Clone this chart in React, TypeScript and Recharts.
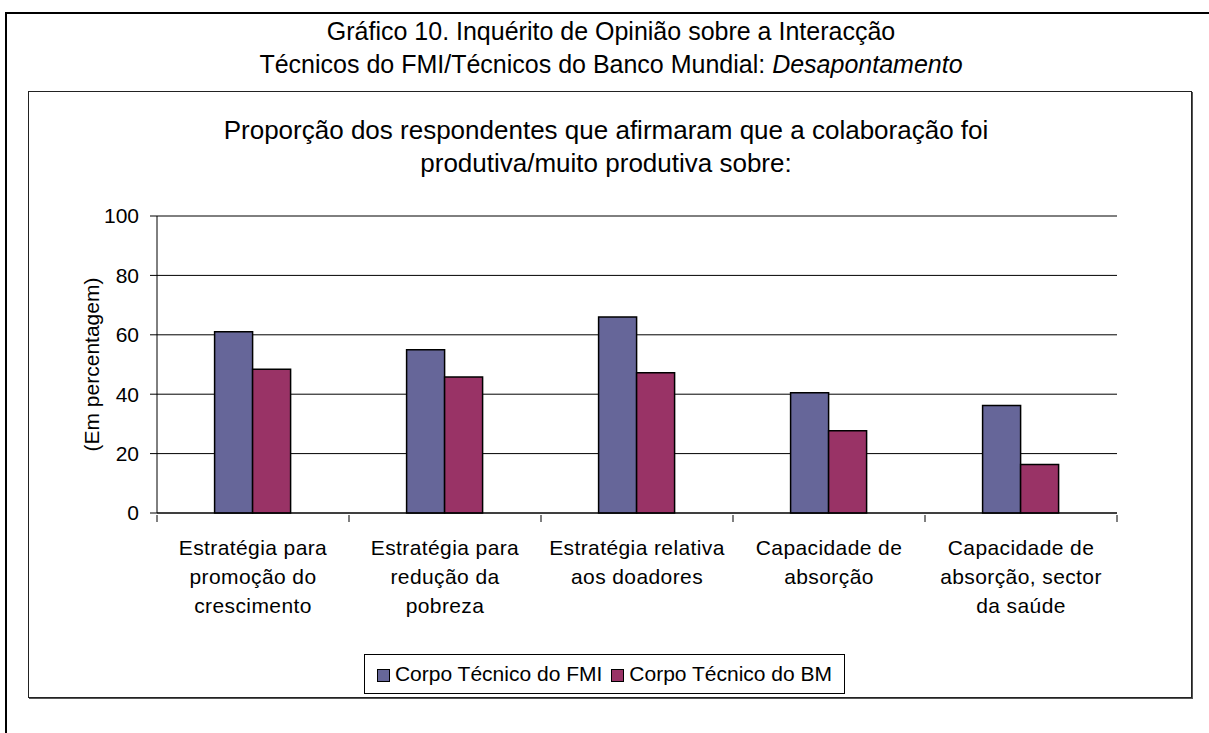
import React from 'react';
import { BarChart, Bar, XAxis, YAxis, CartesianGrid, Legend } from 'recharts';

const FONT = '"Liberation Sans", Arial, sans-serif';

const categoryLabels = [
  'Estratégia para\npromoção do\ncrescimento',
  'Estratégia para\nredução da\npobreza',
  'Estratégia relativa\naos doadores',
  'Capacidade de\nabsorção',
  'Capacidade de\nabsorção, sector\nda saúde',
];
const fmiValues = [61, 55, 66, 40.5, 36.2];
const bmValues = [48.4, 45.8, 47.2, 27.7, 16.3];
const yTicks = [0, 20, 40, 60, 80, 100];
const seriesNames = ['Corpo Técnico do FMI', 'Corpo Técnico do BM'];
const seriesColors = ['#666699', '#993366'];

const data = categoryLabels.map((category, i) => ({
  category,
  fmi: fmiValues[i],
  bm: bmValues[i],
}));

const CategoryTick = (props: any) => {
  const { x, y, payload, index } = props;
  const half = payload.offset ?? 96;
  const lines = String(payload.value).split('\n');
  return (
    <g>
      <line x1={x - half} x2={x - half} y1={y} y2={y + 7} stroke="#000" />
      {index === categoryLabels.length - 1 && (
        <line x1={x + half} x2={x + half} y1={y} y2={y + 7} stroke="#000" />
      )}
      <text x={x} y={y} textAnchor="middle" fontSize={21} fill="#000" fontFamily={FONT} letterSpacing={0.4}>
        {lines.map((l, i) => (
          <tspan key={i} x={x} dy={i === 0 ? 40 : 29}>
            {l}
          </tspan>
        ))}
      </text>
    </g>
  );
};

// legend drawn in series order (recharts sorts the payload by name otherwise)
const renderLegend = () => (
  <div
    style={{
      boxSizing: 'border-box',
      width: '100%',
      height: '100%',
      border: '1px solid #000',
      display: 'flex',
      alignItems: 'center',
      justifyContent: 'center',
      fontFamily: FONT,
      fontSize: 21,
      color: '#000',
      background: '#fff',
    }}
  >
    {seriesNames.map((name, i) => (
      <span key={name} style={{ display: 'flex', alignItems: 'center', marginLeft: i === 0 ? 0 : 9 }}>
        <span
          style={{
            display: 'inline-block',
            width: 11,
            height: 11,
            background: seriesColors[i],
            border: '1px solid #000',
            marginRight: 5,
            marginTop: 3,
          }}
        />
        {name}
      </span>
    ))}
  </div>
);

export default function App() {
  return (
    <div style={{ position: 'absolute', left: 0, top: 0, width: 1209, height: 733, background: '#fff', fontFamily: FONT }}>
      <div style={{ position: 'absolute', left: 5, top: 12, width: 1204, height: 2, background: '#000' }} />
      <div style={{ position: 'absolute', left: 5, top: 12, width: 2, height: 721, background: '#000' }} />
      <div style={{ position: 'absolute', left: 0, top: 15, width: 1222, textAlign: 'center', fontSize: 25, lineHeight: '33px', color: '#000' }}>
        Gráfico 10. Inquérito de Opinião sobre a Interacção
        <br />
        Técnicos do FMI/Técnicos do Banco Mundial: <i>Desapontamento</i>
      </div>
      <div
        style={{
          position: 'absolute',
          left: 28,
          top: 91,
          width: 1164,
          height: 607,
          boxSizing: 'border-box',
          border: '1px solid #222',
          boxShadow: '1px 1px 0 #555',
        }}
      />
      <div style={{ position: 'absolute', left: 0, top: 114, width: 1212, textAlign: 'center', fontSize: 26, lineHeight: '33px', color: '#000' }}>
        Proporção dos respondentes que afirmaram que a colaboração foi
        <br />
        produtiva/muito produtiva sobre:
      </div>
      <BarChart
        width={1209}
        height={733}
        data={data}
        margin={{ top: 216, right: 92, bottom: 120, left: 82 }}
        barCategoryGap="30%"
        barGap={0}
        style={{ position: 'absolute', left: 0, top: 0, fontFamily: FONT }}
      >
        <CartesianGrid vertical={false} stroke="#000" />
        <XAxis
          dataKey="category"
          interval={0}
          tickSize={0}
          tickLine={false}
          axisLine={{ stroke: '#000' }}
          tick={<CategoryTick />}
          height={100}
        />
        <YAxis
          domain={[0, 100]}
          ticks={yTicks}
          interval={0}
          tickSize={7}
          tickMargin={11}
          axisLine={{ stroke: '#000' }}
          tickLine={{ stroke: '#000' }}
          tick={{ fill: '#000', fontSize: 21 }}
          width={75}
          label={{
            value: '(Em percentagem)',
            angle: -90,
            position: 'insideLeft',
            offset: 10,
            style: { textAnchor: 'middle', fontSize: 21, fill: '#000' },
          }}
        />
        <YAxis
          yAxisId="right"
          orientation="right"
          domain={[0, 100]}
          tick={false}
          tickLine={false}
          axisLine={{ stroke: '#000' }}
          width={0}
        />
        <Legend
          layout="horizontal"
          verticalAlign="middle"
          align="center"
          wrapperStyle={{ left: 364, top: 654, width: 481, height: 40 }}
          content={renderLegend}
        />
        <Bar dataKey="fmi" name={seriesNames[0]} fill={seriesColors[0]} stroke="#000" strokeWidth={1.5} isAnimationActive={false} />
        <Bar dataKey="bm" name={seriesNames[1]} fill={seriesColors[1]} stroke="#000" strokeWidth={1.5} isAnimationActive={false} />
      </BarChart>
    </div>
  );
}
